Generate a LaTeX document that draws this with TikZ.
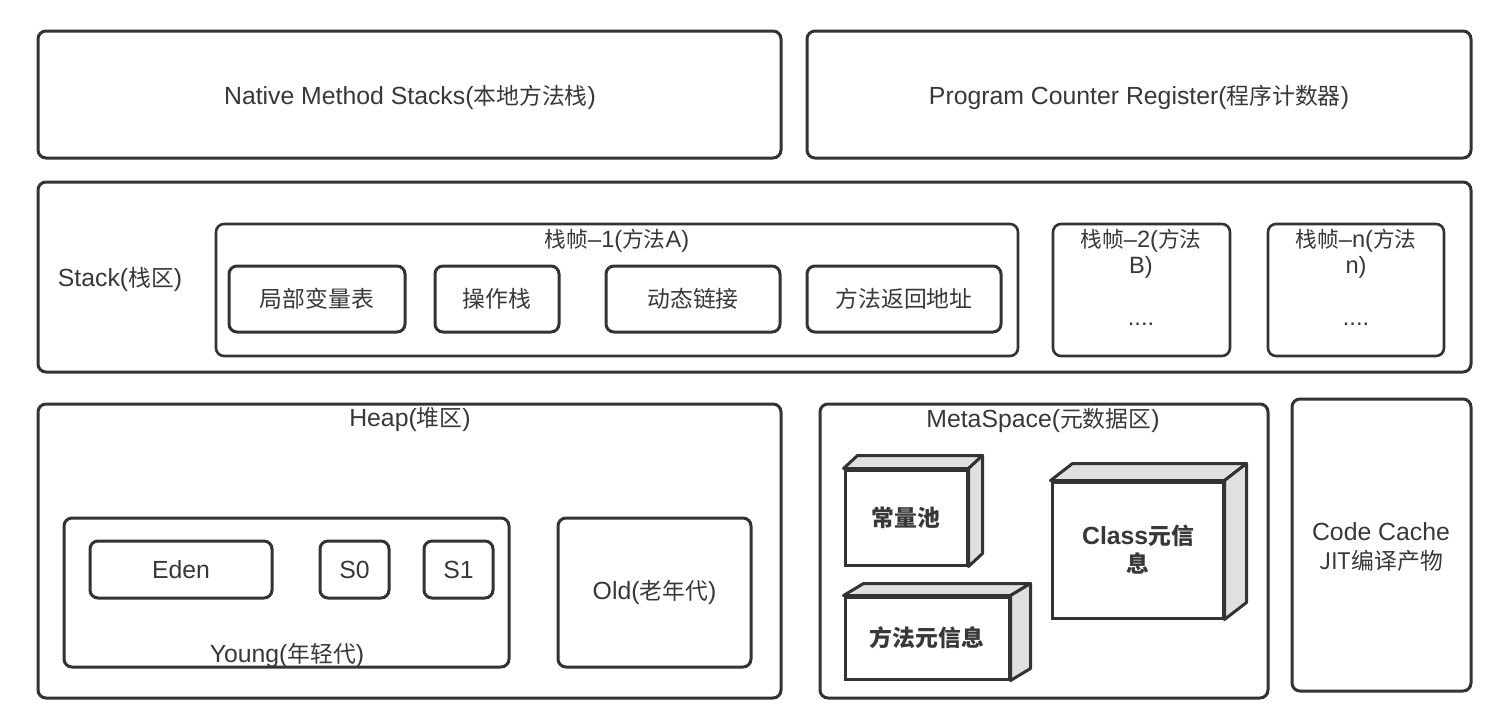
\documentclass[tikz,border=0pt]{standalone}
\usepackage{fontspec}
\setmainfont{Liberation Sans}
\newfontfamily\cjk{Noto Sans CJK SC}[Scale=0.92]
\newcommand{\zh}[1]{{\cjk #1}}
\usetikzlibrary{fit}
\definecolor{ln}{HTML}{333333}
\definecolor{txt}{HTML}{383838}
\definecolor{sidegray}{HTML}{E0E0E0}
\tikzset{
  box/.style={draw=ln, line width=1.5pt, rounded corners=4pt, inner sep=0pt, fill=white},
  thinbox/.style={box, line width=1.3pt},
  lbl/.style={text=txt, inner sep=0pt, align=center, font=\fontsize{12.4}{14.5}\selectfont},
  slbl/.style={lbl, font=\fontsize{11.8}{13}\selectfont},
  blbl/.style={lbl, font=\bfseries\fontsize{12.4}{14}\selectfont},
  cube/.style={draw=ln, line width=1.5pt, inner sep=0pt, fill=white},
  face/.style={draw=ln, line width=1.5pt, fill=sidegray, line join=round},
}
\begin{document}
\begin{tikzpicture}[x=0.5pt,y=-0.5pt]
\useasboundingbox (0,0) rectangle (1500,728);
% top row
\node[box, fit={(38,31) (781,158)}] (native) {};
\node[lbl] (nativelbl) at (410,97) {Native Method Stacks(\zh{本地方法栈})};
\node[box, fit={(807,31) (1471,158)}] (pcr) {};
\node[lbl] (pcrlbl) at (1139,97) {Program Counter Register(\zh{程序计数器})};
% stack
\node[box, fit={(38,182) (1471,372)}] (stack) {};
\node[lbl] (stacklbl) at (120,279) {Stack(\zh{栈区})};
\node[thinbox, fit={(216,224) (1018,356)}] (frame1) {};
\node[slbl] (frame1lbl) at (617,241) {\zh{栈帧}–1(\zh{方法}A)};
\node[box, fit={(229,266) (405,332)}] (lvt) {};
\node[lbl] (lvtlbl) at (lvt.center) {\zh{局部变量表}};
\node[box, fit={(435,266) (559,332)}] (ops) {};
\node[lbl] (opslbl) at (ops.center) {\zh{操作栈}};
\node[box, fit={(606,266) (780,332)}] (dyn) {};
\node[lbl] (dynlbl) at (dyn.center) {\zh{动态链接}};
\node[box, fit={(807,266) (1001,332)}] (ret) {};
\node[lbl] (retlbl) at (ret.center) {\zh{方法返回地址}};
\node[thinbox, fit={(1053,224) (1230,356)}] (frame2) {};
\node[slbl] (frame2lbl) at (1141,254) {\zh{栈帧}–2(\zh{方法}\\B)};
\node[slbl] (frame2dots) at (1141,324) {....};
\node[thinbox, fit={(1268,224) (1444,356)}] (framen) {};
\node[slbl] (framenlbl) at (1356,254) {\zh{栈帧}–n(\zh{方法}\\n)};
\node[slbl] (framendots) at (1356,324) {....};
% heap
\node[box, fit={(38,404) (781,698)}] (heap) {};
\node[lbl] (heaplbl) at (410,420) {Heap(\zh{堆区})};
\node[box, fit={(64,518) (509,667)}] (young) {};
\node[lbl] (younglbl) at (287,655) {Young(\zh{年轻代})};
\node[box, fit={(90,541) (272,598)}] (eden) {};
\node[lbl] (edenlbl) at (eden.center) {Eden};
\node[box, fit={(320,541) (389,598)}] (s0) {};
\node[lbl] (s0lbl) at (s0.center) {S0};
\node[box, fit={(424,541) (493,598)}] (s1) {};
\node[lbl] (s1lbl) at (s1.center) {S1};
\node[box, fit={(558,518) (751,667)}] (old) {};
\node[lbl] (oldlbl) at (old.center) {Old(\zh{老年代})};
% metaspace
\node[box, fit={(820,404) (1268,698)}] (meta) {};
\node[lbl] (metalbl) at (1043,420) {MetaSpace(\zh{元数据区})};
\node[cube, fit={(845,470) (967,565)}] (pool) {};
\draw[face] (pool.north west) -- ++(14,-13) -- ([shift={(14,-13)}]pool.north east) -- (pool.north east) -- cycle;
\draw[face] (pool.north east) -- ++(14,-13) -- ([shift={(14,-13)}]pool.south east) -- (pool.south east) -- cycle;
\node[blbl] (poollbl) at (906,518) {\zh{常量池}};
\node[cube, fit={(845,597) (1009,679)}] (minfo) {};
\draw[face] (minfo.north west) -- ++(20,-12) -- ([shift={(20,-12)}]minfo.north east) -- (minfo.north east) -- cycle;
\draw[face] (minfo.north east) -- ++(20,-12) -- ([shift={(20,-12)}]minfo.south east) -- (minfo.south east) -- cycle;
\node[blbl] (minfolbl) at (927,638) {\zh{方法元信息}};
\node[cube, fit={(1052,482) (1223,618)}] (cinfo) {};
\draw[face] (cinfo.north west) -- ++(22,-17) -- ([shift={(22,-17)}]cinfo.north east) -- (cinfo.north east) -- cycle;
\draw[face] (cinfo.north east) -- ++(22,-17) -- ([shift={(22,-17)}]cinfo.south east) -- (cinfo.south east) -- cycle;
\node[blbl] (cinfolbl) at (1138,550) {Class\zh{元信}\\[0pt]\zh{息}};
% code cache
\node[box, fit={(1292,399) (1471,691)}] (code) {};
\node[lbl] (codelbl) at (1381,547) {Code Cache\\\zh{JIT编译产物}};
\end{tikzpicture}
\end{document}
